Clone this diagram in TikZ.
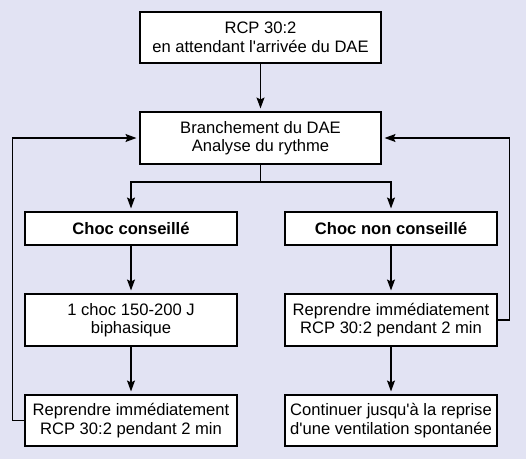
\documentclass[tikz,border=0pt]{standalone}
\usepackage{fontspec}
\setmainfont{Liberation Sans}
\usetikzlibrary{arrows.meta,positioning}
\definecolor{bgcol}{RGB}{226,227,243}
\tikzset{
    box/.style={draw,fill=white,line width=1.1pt,align=center,inner sep=2pt,
        minimum width=212pt,minimum height=52pt,font=\fontsize{16.6}{18.5}\selectfont},
    wide/.style={minimum width=241pt},
    flat/.style={minimum height=33pt,font=\fontsize{16.6}{18.5}\selectfont\bfseries},
    arr/.style={line width=1.2pt,-{Stealth[length=11pt,width=8pt,inset=2pt]},shorten >=3pt},
    link/.style={line width=1.2pt}
}
\begin{document}
\begin{tikzpicture}[x=1pt,y=1pt]
        %% background
        \fill[bgcol] (0,0) rectangle (526,459);
        \useasboundingbox (0,0) rectangle (526,459);
        %% top row
        \node[box,wide,minimum height=51pt] (rcp) at (260.5,421.5) {RCP 30:2\\en attendant l\textquotesingle arrivée du DAE};
        \node[box,wide] (dae) at (260.5,321) {Branchement du DAE\\Analyse du rythme};
        %% left column
        \node[box,flat] (choc) at (131,230.5) {Choc conseillé};
        \node[box] (shock) at (131,139) {1 choc 150-200 J\\biphasique};
        \node[box,minimum height=51pt] (resumeL) at (131,38.5) {Reprendre immédiatement\\RCP 30:2 pendant 2 min};
        %% right column
        \node[box,flat] (nochoc) at (391,230.5) {Choc non conseillé};
        \node[box] (resumeR) at (391,139) {Reprendre immédiatement\\RCP 30:2 pendant 2 min};
        \node[box,minimum height=51pt] (cont) at (391,38.5) {Continuer jusqu\textquotesingle à la reprise\\d\textquotesingle une ventilation spontanée};
        %% arrows
        \coordinate (split) at (260.5,277);
        \draw[arr] (rcp) -- (dae);
        \draw[link] (dae) -- (split);
        \draw[arr] (split) -| (choc);
        \draw[arr] (split) -| (nochoc);
        \draw[arr] (choc) -- (shock);
        \draw[arr] (shock) -- (resumeL);
        \draw[arr] (nochoc) -- (resumeR);
        \draw[arr] (resumeR) -- (cont);
        %% loops back
        \draw[arr] (resumeL.west) -- ++(-12,0) |- (dae.west);
        \draw[arr] (resumeR.east) -- ++(12,0) |- (dae.east);
    \end{tikzpicture}
\end{document}
